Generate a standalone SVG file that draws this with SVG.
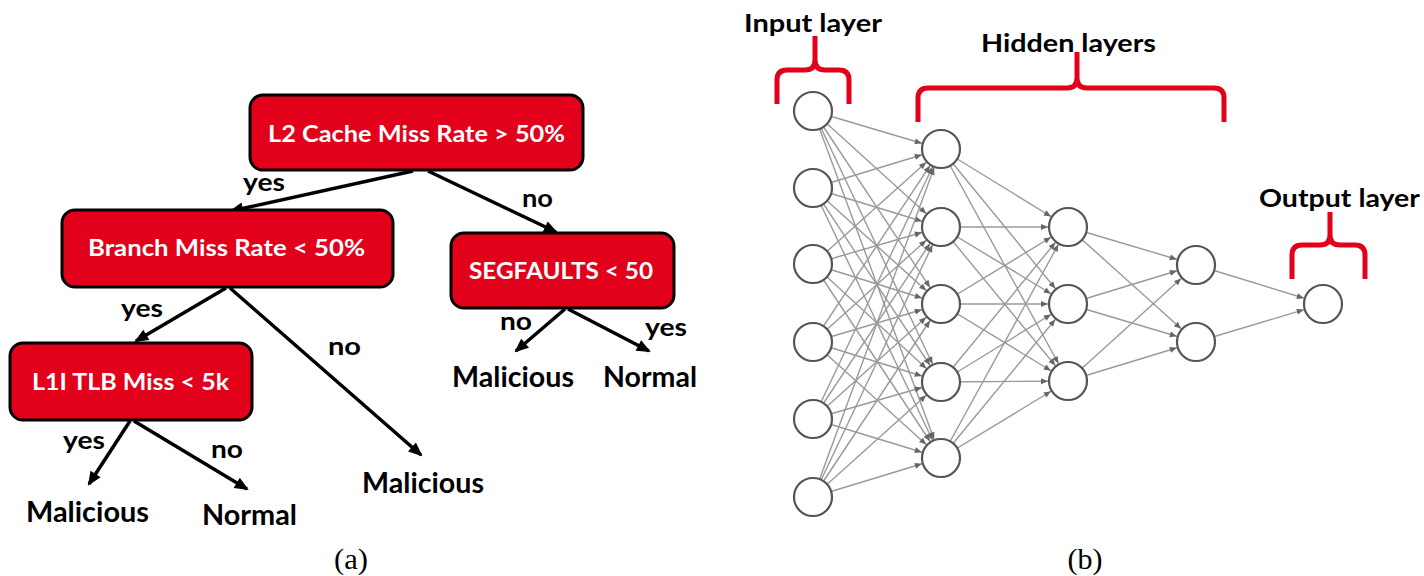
<svg xmlns="http://www.w3.org/2000/svg" width="1424" height="576" viewBox="0 0 1424 576">
<style>
.box{fill:#E2001A;stroke:#000;stroke-width:3}
.bt{font-family:Lato,"Open Sans",sans-serif;font-weight:bold;font-size:22px;fill:#fff;text-anchor:middle}
.lb{font-family:Lato,"Open Sans",sans-serif;font-weight:bold;font-size:25px;fill:#000}
.lf{font-family:Lato,"Open Sans",sans-serif;font-weight:bold;font-size:28px;fill:#000}
.tree line{stroke:#000;stroke-width:3.5;marker-end:url(#ta)}
.nn line{stroke:#9a9a9a;stroke-width:1.4;marker-end:url(#na)}
.node{fill:#fff;stroke:#555;stroke-width:2.2}
.br{fill:none;stroke:#E2001A;stroke-width:5;stroke-linecap:butt}
.cap{font-family:"Liberation Serif","DejaVu Serif",serif;font-size:29px;fill:#000;text-anchor:middle}
</style>
<defs>
<marker id="ta" markerUnits="userSpaceOnUse" markerWidth="14" markerHeight="12" refX="12" refY="6" orient="auto" overflow="visible"><path d="M0,0 L14,6 L0,12 z" fill="#000"/></marker>
<marker id="na" markerUnits="userSpaceOnUse" markerWidth="7" markerHeight="6" refX="27" refY="3" orient="auto" overflow="visible"><path d="M0,0 L7,3 L0,6 z" fill="#666"/></marker>
</defs>
<rect width="1424" height="576" fill="#fff"/>

<g id="connectors" class="tree">
<line x1="413" y1="171" x2="231" y2="211"/>
<line x1="428" y1="171" x2="556" y2="232"/>
<line x1="226" y1="288" x2="136" y2="341"/>
<line x1="230" y1="288" x2="421" y2="455"/>
<line x1="130" y1="421" x2="89" y2="484"/>
<line x1="134" y1="421" x2="247" y2="489"/>
<line x1="565" y1="309" x2="516" y2="351"/>
<line x1="568" y1="309" x2="649" y2="351"/>
</g>

<g id="n-root"><rect class="box" x="250" y="95" width="333" height="75" rx="13"/><text class="bt" x="416.5" y="142" textLength="297" lengthAdjust="spacingAndGlyphs">L2 Cache Miss Rate &gt; 50%</text></g>
<g id="n-branch"><rect class="box" x="62" y="210" width="331" height="77" rx="13"/><text class="bt" x="226.5" y="256" textLength="277" lengthAdjust="spacingAndGlyphs">Branch Miss Rate &lt; 50%</text></g>
<g id="n-l1i"><rect class="box" x="10" y="343" width="242" height="77" rx="13"/><text class="bt" x="130.5" y="390" textLength="197" lengthAdjust="spacingAndGlyphs">L1I TLB Miss &lt; 5k</text></g>
<g id="n-seg"><rect class="box" x="451" y="233" width="223" height="75" rx="13"/><text class="bt" x="561" y="279" textLength="184" lengthAdjust="spacingAndGlyphs">SEGFAULTS &lt; 50</text></g>

<g id="edge-labels">
<text class="lb" x="243" y="191" textLength="42" lengthAdjust="spacingAndGlyphs">yes</text>
<text class="lb" x="522" y="207" textLength="31" lengthAdjust="spacingAndGlyphs">no</text>
<text class="lb" x="121" y="317" textLength="42" lengthAdjust="spacingAndGlyphs">yes</text>
<text class="lb" x="328" y="355" textLength="33" lengthAdjust="spacingAndGlyphs">no</text>
<text class="lb" x="63" y="449" textLength="42" lengthAdjust="spacingAndGlyphs">yes</text>
<text class="lb" x="211" y="458" textLength="32" lengthAdjust="spacingAndGlyphs">no</text>
<text class="lb" x="500" y="330" textLength="32" lengthAdjust="spacingAndGlyphs">no</text>
<text class="lb" x="645" y="336" textLength="42" lengthAdjust="spacingAndGlyphs">yes</text>
</g>

<g id="leaf-mal1"><text class="lf" x="26" y="522" textLength="123" lengthAdjust="spacingAndGlyphs">Malicious</text></g>
<g id="leaf-norm1"><text class="lf" x="202" y="525" textLength="95" lengthAdjust="spacingAndGlyphs">Normal</text></g>
<g id="leaf-mal2"><text class="lf" x="362" y="493" textLength="122" lengthAdjust="spacingAndGlyphs">Malicious</text></g>
<g id="leaf-mal3"><text class="lf" x="452" y="387" textLength="122" lengthAdjust="spacingAndGlyphs">Malicious</text></g>
<g id="leaf-norm2"><text class="lf" x="603" y="387" textLength="94" lengthAdjust="spacingAndGlyphs">Normal</text></g>

<g id="nn-connectors" class="nn">
<line x1="813" y1="111" x2="941" y2="149"/><line x1="813" y1="111" x2="941" y2="227"/><line x1="813" y1="111" x2="941" y2="304"/><line x1="813" y1="111" x2="941" y2="382"/><line x1="813" y1="111" x2="941" y2="458"/>
<line x1="813" y1="188" x2="941" y2="149"/><line x1="813" y1="188" x2="941" y2="227"/><line x1="813" y1="188" x2="941" y2="304"/><line x1="813" y1="188" x2="941" y2="382"/><line x1="813" y1="188" x2="941" y2="458"/>
<line x1="813" y1="264" x2="941" y2="149"/><line x1="813" y1="264" x2="941" y2="227"/><line x1="813" y1="264" x2="941" y2="304"/><line x1="813" y1="264" x2="941" y2="382"/><line x1="813" y1="264" x2="941" y2="458"/>
<line x1="813" y1="342" x2="941" y2="149"/><line x1="813" y1="342" x2="941" y2="227"/><line x1="813" y1="342" x2="941" y2="304"/><line x1="813" y1="342" x2="941" y2="382"/><line x1="813" y1="342" x2="941" y2="458"/>
<line x1="813" y1="419" x2="941" y2="149"/><line x1="813" y1="419" x2="941" y2="227"/><line x1="813" y1="419" x2="941" y2="304"/><line x1="813" y1="419" x2="941" y2="382"/><line x1="813" y1="419" x2="941" y2="458"/>
<line x1="813" y1="497" x2="941" y2="149"/><line x1="813" y1="497" x2="941" y2="227"/><line x1="813" y1="497" x2="941" y2="304"/><line x1="813" y1="497" x2="941" y2="382"/><line x1="813" y1="497" x2="941" y2="458"/>
<line x1="941" y1="149" x2="1068" y2="227"/><line x1="941" y1="149" x2="1068" y2="304"/><line x1="941" y1="149" x2="1068" y2="381"/>
<line x1="941" y1="227" x2="1068" y2="227"/><line x1="941" y1="227" x2="1068" y2="304"/><line x1="941" y1="227" x2="1068" y2="381"/>
<line x1="941" y1="304" x2="1068" y2="227"/><line x1="941" y1="304" x2="1068" y2="304"/><line x1="941" y1="304" x2="1068" y2="381"/>
<line x1="941" y1="382" x2="1068" y2="227"/><line x1="941" y1="382" x2="1068" y2="304"/><line x1="941" y1="382" x2="1068" y2="381"/>
<line x1="941" y1="458" x2="1068" y2="227"/><line x1="941" y1="458" x2="1068" y2="304"/><line x1="941" y1="458" x2="1068" y2="381"/>
<line x1="1068" y1="227" x2="1196" y2="265"/><line x1="1068" y1="227" x2="1196" y2="342"/>
<line x1="1068" y1="304" x2="1196" y2="265"/><line x1="1068" y1="304" x2="1196" y2="342"/>
<line x1="1068" y1="381" x2="1196" y2="265"/><line x1="1068" y1="381" x2="1196" y2="342"/>
<line x1="1196" y1="265" x2="1323" y2="304"/><line x1="1196" y1="342" x2="1323" y2="304"/>
</g>

<g id="input-layer">
<circle class="node" cx="813" cy="111" r="19"/><circle class="node" cx="813" cy="188" r="19"/><circle class="node" cx="813" cy="264" r="19"/><circle class="node" cx="813" cy="342" r="19"/><circle class="node" cx="813" cy="419" r="19"/><circle class="node" cx="813" cy="497" r="19"/>
</g>
<g id="hidden-layer-1">
<circle class="node" cx="941" cy="149" r="19"/><circle class="node" cx="941" cy="227" r="19"/><circle class="node" cx="941" cy="304" r="19"/><circle class="node" cx="941" cy="382" r="19"/><circle class="node" cx="941" cy="458" r="19"/>
</g>
<g id="hidden-layer-2">
<circle class="node" cx="1068" cy="227" r="19"/><circle class="node" cx="1068" cy="304" r="19"/><circle class="node" cx="1068" cy="381" r="19"/>
</g>
<g id="hidden-layer-3">
<circle class="node" cx="1196" cy="265" r="19"/><circle class="node" cx="1196" cy="342" r="19"/>
</g>
<g id="output-layer">
<circle class="node" cx="1323" cy="304" r="19"/>
</g>

<g id="brackets">
<path class="br" d="M777,104 L777,80 Q777,70 787,70 L805,70 Q815,70 815,60 L815,36 M815,60 Q815,70 825,70 L839,70 Q849,70 849,80 L849,104"/>
<path class="br" d="M918,122 L918,98 Q918,88 928,88 L1067,88 Q1077,88 1077,78 L1077,52 M1077,78 Q1077,88 1087,88 L1214,88 Q1224,88 1224,98 L1224,122"/>
<path class="br" d="M1292,279 L1292,255 Q1292,245 1302,245 L1320,245 Q1330,245 1330,235 L1330,212 M1330,235 Q1330,245 1340,245 L1355,245 Q1365,245 1365,255 L1365,279"/>
</g>
<g id="layer-labels">
<text class="lb" x="744" y="32" font-size="24" textLength="138" lengthAdjust="spacingAndGlyphs">Input layer</text>
<text class="lb" x="981" y="52" font-size="24" textLength="175" lengthAdjust="spacingAndGlyphs">Hidden layers</text>
<text class="lb" x="1259" y="207" font-size="24" textLength="161" lengthAdjust="spacingAndGlyphs">Output layer</text>
</g>

<text class="cap" x="351" y="569" textLength="34" lengthAdjust="spacingAndGlyphs">(a)</text>
<text class="cap" x="1085" y="569" textLength="35" lengthAdjust="spacingAndGlyphs">(b)</text>
</svg>
